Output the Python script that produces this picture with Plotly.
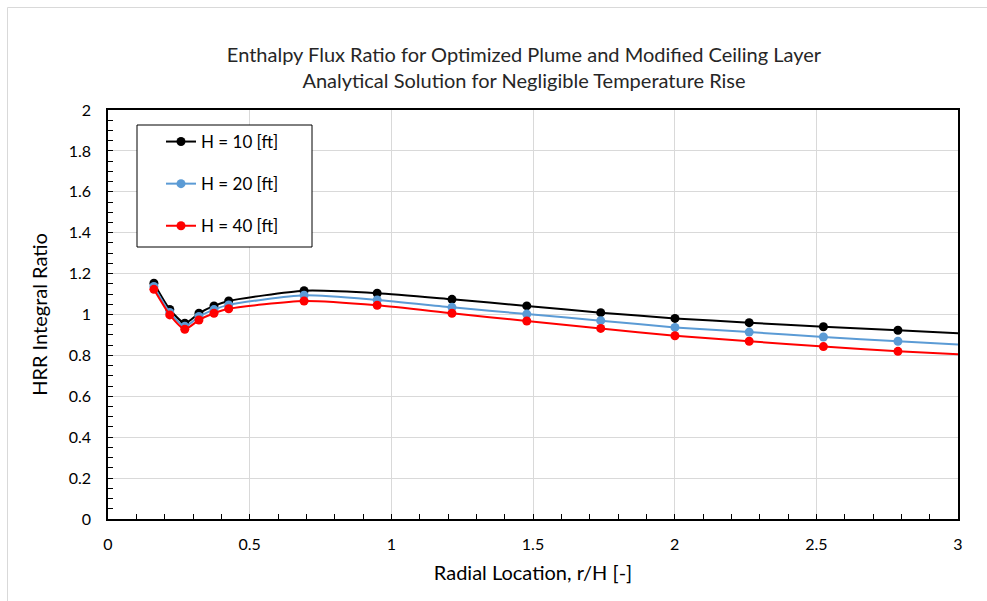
import plotly.graph_objects as go

# Radial location r/H
r_over_h = [0.162, 0.218, 0.271, 0.321, 0.374, 0.426, 0.692, 0.950, 1.214,
            1.478, 1.739, 2.001, 2.263, 2.525, 2.788, 3.050]

# HRR integral ratio for each ceiling height
ratio_h10 = [1.153, 1.025, 0.957, 1.006, 1.042, 1.066, 1.116, 1.104, 1.074,
             1.042, 1.009, 0.981, 0.960, 0.940, 0.923, 0.905]
ratio_h20 = [1.137, 1.010, 0.942, 0.990, 1.024, 1.047, 1.094, 1.071, 1.035,
             1.002, 0.970, 0.937, 0.914, 0.890, 0.869, 0.850]
ratio_h40 = [1.123, 0.998, 0.928, 0.973, 1.006, 1.028, 1.066, 1.045, 1.006,
             0.968, 0.932, 0.896, 0.869, 0.843, 0.820, 0.802]

series_names = ["H = 10 [ft]", "H = 20 [ft]", "H = 40 [ft]"]
series_colors = ["#000000", "#5B9BD5", "#FF0000"]

FONT = "Lato"

fig = go.Figure()
for i, (name, color, vals) in enumerate(
        zip(series_names, series_colors, [ratio_h10, ratio_h20, ratio_h40])):
    fig.add_trace(go.Scatter(
        x=r_over_h, y=vals, name=name, mode="lines+markers",
        line=dict(color=color, width=2, shape="spline", smoothing=0.6),
        marker=dict(color=color, size=9),
        legendgroup=f"g{i}",
    ))

# plot area in pixels: x 108..958, y 110..519
L, R, T, B = 108, 29, 110, 82
W, H = 987, 601
pw, ph = W - L - R, H - T - B


def px_x(p):
    return (p - L) / pw


def px_y(p):
    return (H - B - p) / ph


frame = dict(color="#D9D9D9", width=1)

fig.update_layout(
    width=W, height=H,
    margin=dict(l=L, r=R, t=T, b=B),
    paper_bgcolor="white", plot_bgcolor="white",
    font=dict(family=FONT, size=16, color="#000000"),
    title=dict(
        text="Enthalpy Flux Ratio for Optimized Plume and Modified Ceiling Layer"
             "<br>Analytical Solution for Negligible Temperature Rise",
        x=524 / W, xanchor="center", y=1 - 62 / H, yanchor="middle",
        font=dict(family=FONT, size=20, color="#262626"),
    ),
    showlegend=True,
    legend=dict(
        x=px_x(161), y=px_y(124), xanchor="left", yanchor="top",
        bgcolor="rgba(0,0,0,0)", borderwidth=0,
        font=dict(family=FONT, size=17, color="#000000"),
        tracegroupgap=17, itemwidth=30,
    ),
    shapes=[
        # chart-area frame (left and top edges)
        dict(type="line", xref="paper", yref="paper",
             x0=px_x(7.5), x1=px_x(7.5), y0=px_y(H + 5), y1=px_y(7.5),
             line=frame, layer="below"),
        dict(type="line", xref="paper", yref="paper",
             x0=px_x(7.5), x1=px_x(W + 5), y0=px_y(7.5), y1=px_y(7.5),
             line=frame, layer="below"),
        # legend frame
        dict(type="rect", xref="paper", yref="paper",
             x0=px_x(137), x1=px_x(312), y0=px_y(247), y1=px_y(125),
             line=dict(color="#000000", width=1), fillcolor="white",
             layer="above"),
    ],
)

fig.update_xaxes(
    range=[0, 3], dtick=0.5, tick0=0,
    showgrid=True, gridcolor="#D9D9D9", gridwidth=1,
    showline=True, linecolor="#000000", linewidth=1.5, mirror=True,
    ticks="inside", ticklen=5, tickcolor="#000000",
    minor=dict(dtick=0.1, ticks="inside", ticklen=5, tickcolor="#000000",
               showgrid=False),
    ticklabelstandoff=10,
    tickfont=dict(family=FONT, size=16, color="#000000"),
    title=dict(text="Radial Location, r/H [-]",
               font=dict(family=FONT, size=20, color="#000000"), standoff=14),
    zeroline=False,
)
fig.update_yaxes(
    range=[0, 2], dtick=0.2, tick0=0,
    showgrid=True, gridcolor="#D9D9D9", gridwidth=1,
    showline=True, linecolor="#000000", linewidth=1.5, mirror=True,
    ticks="inside", ticklen=5, tickcolor="#000000",
    minor=dict(dtick=0.05, ticks="inside", ticklen=5, tickcolor="#000000",
               showgrid=False),
    ticklabelstandoff=12,
    tickfont=dict(family=FONT, size=16, color="#000000"),
    title=dict(text="HRR Integral Ratio",
               font=dict(family=FONT, size=20, color="#000000"), standoff=16),
    zeroline=False,
)

fig.write_html("out.html")
